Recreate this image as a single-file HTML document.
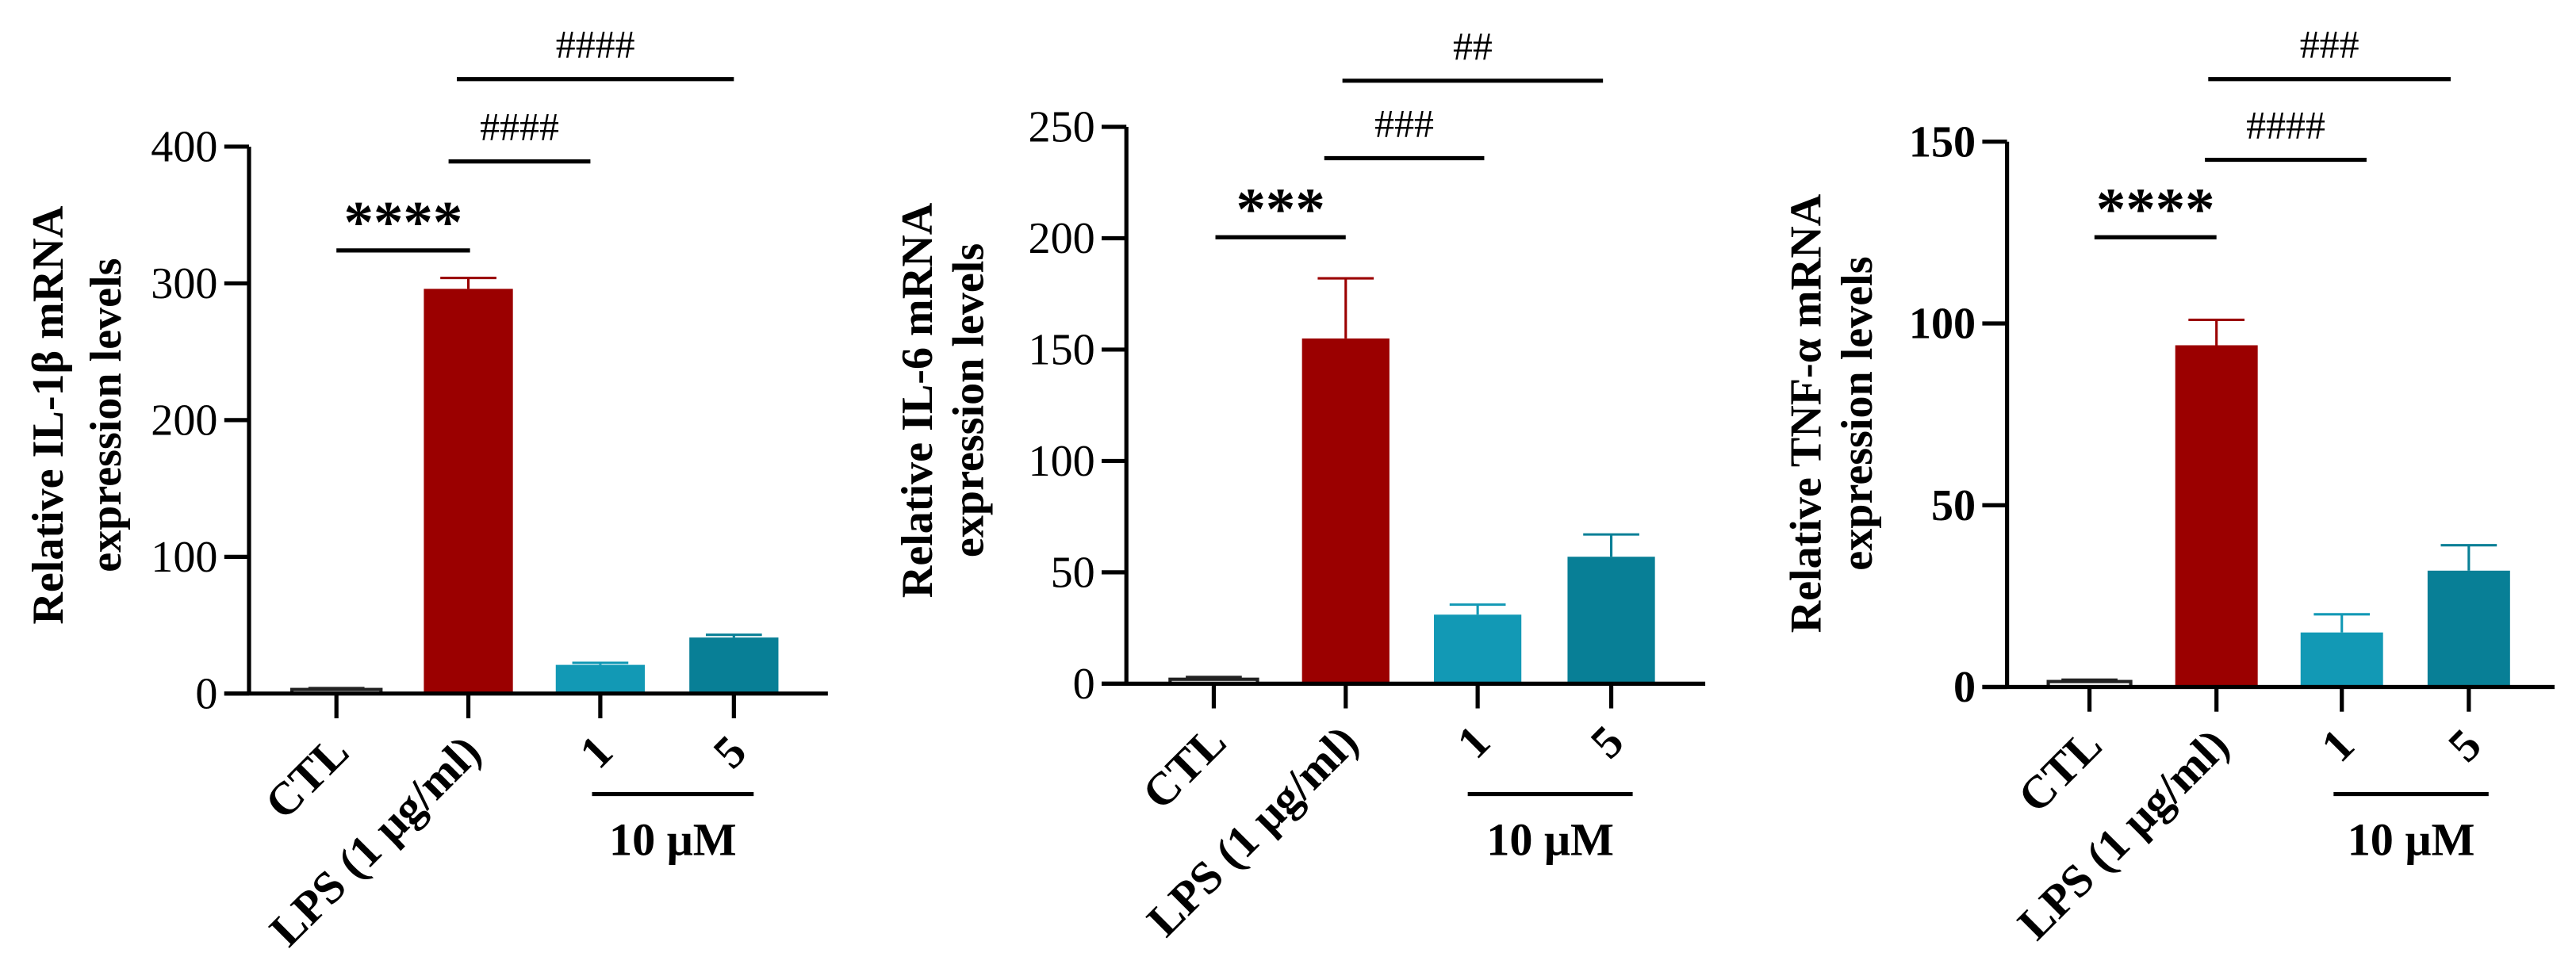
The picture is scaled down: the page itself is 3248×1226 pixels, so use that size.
<!DOCTYPE html>
<html><head><meta charset="utf-8"><style>
html,body{margin:0;padding:0;background:#fff;}
svg{display:block;}
text{font-family:"Liberation Serif",serif;}
</style></head><body>
<svg id="fig" xmlns="http://www.w3.org/2000/svg" width="3248" height="1226" viewBox="0 0 1562 590" preserveAspectRatio="none"></svg>
<script>
const categories = ["CTL","LPS (1 μg/ml)","1","5"];
const il1bValues = [3,296,21,41];
const il1bErrors = [1,8,1.5,2];
const il6Values = [2,155,31,57];
const il6Errors = [1,27,4.5,10];
const tnfValues = [1.5,94,15,32];
const tnfErrors = [0.5,7,5,7];
const il1bTicks = [0,100,200,300,400];
const il6Ticks = [0,50,100,150,200,250];
const tnfTicks = [0,50,100,150];
const il1bSig = ["****","####","####"];
const il6Sig = ["***","###","##"];
const tnfSig = ["****","####","###"];
const barColors = ["#222","#9b0000","#1299b5","#087f96"];

const NS="http://www.w3.org/2000/svg";
const svg=document.getElementById('fig');
function mk(tag,attrs,parent){const e=document.createElementNS(NS,tag);for(const k in attrs)e.setAttribute(k,attrs[k]);(parent||svg).appendChild(e);return e;}

const panels=[
 {name:"il1b",vals:il1bValues,errs:il1bErrors,ticks:il1bTicks,sig:il1bSig,ax:151,y0:421,yTop:89,xEnd:502,cx:[204,284,364,445],bw:54,
  title:["Relative IL-1β mRNA","expression levels"],tx:29,ty:252,gap:35,boldTicks:false,
  br:[[204,285,152],[272,358,98],[277,445,48]],grp:[359,457]},
 {name:"il6",vals:il6Values,errs:il6Errors,ticks:il6Ticks,sig:il6Sig,ax:683,y0:415,yTop:77,xEnd:1034,cx:[736,816,896,977],bw:53,
  title:["Relative IL-6 mRNA","expression levels"],tx:556,ty:243,gap:31,boldTicks:false,
  br:[[737,816,144],[803,900,96],[814,972,49]],grp:[890,990]},
 {name:"tnf",vals:tnfValues,errs:tnfErrors,ticks:tnfTicks,sig:tnfSig,ax:1217,y0:417,yTop:86,xEnd:1549,cx:[1267,1344,1420,1497],bw:50,
  title:["Relative TNF-α mRNA","expression levels"],tx:1095,ty:251,gap:31,boldTicks:true,
  br:[[1270,1344,144],[1337,1435,97],[1339,1486,48]],grp:[1415,1509]}
];

panels.forEach(p=>{
 const g=mk('g',{});
 
 
 const maxT=p.ticks[p.ticks.length-1];
 const y=v=>p.y0-(v/maxT)*(p.y0-p.yTop);
 p.vals.forEach((v,i)=>{
  const c=barColors[i], w=p.bw, x=p.cx[i]-w/2, top=y(v);
  const eb=y(v+p.errs[i]);
  const ln=mk('line',{x1:p.cx[i],x2:p.cx[i],y1:top,y2:eb,stroke:c,'stroke-width':1.5},g);
  
  
  const cap=mk('line',{x1:p.cx[i]-17,x2:p.cx[i]+17,y1:eb,y2:eb,stroke:c,'stroke-width':1.5},g);
  
  
  const r=mk('rect',{x:x,y:top,width:w,height:p.y0-top,fill:i===0?'#fff':c,stroke:i===0?'#222':'none','stroke-width':2},g);
  
  
 });
 const ya=mk('line',{x1:p.ax,x2:p.ax,y1:p.yTop,y2:p.y0+1,stroke:'#000','stroke-width':2.5},g);
 
 
 const xa=mk('line',{x1:p.ax-15,x2:p.xEnd,y1:p.y0,y2:p.y0,stroke:'#000','stroke-width':2.5},g);
 
 
 p.ticks.forEach(t=>{
  const ty=y(t);
  mk('line',{x1:p.ax-15,x2:p.ax,y1:ty,y2:ty,stroke:'#000','stroke-width':2.5},g);
  const lb=mk('text',{x:p.ax-19,y:ty+9,'text-anchor':'end','font-size':27,'font-weight':p.boldTicks?'bold':'normal'},g);
  lb.textContent=t;
  
  
 });
 categories.forEach((c,i)=>{
  mk('line',{x1:p.cx[i],x2:p.cx[i],y1:p.y0,y2:p.y0+15,stroke:'#000','stroke-width':2.5},g);
  const tx=p.cx[i]+9, ty=p.y0+37;
  const lb=mk('text',{x:tx,y:ty,'text-anchor':'end','font-size':28,'font-weight':'bold',transform:`rotate(-45 ${tx} ${ty})`},g);
  lb.textContent=c;
  
  
 });
 const gl=mk('line',{x1:p.grp[0],x2:p.grp[1],y1:482,y2:482,stroke:'#000','stroke-width':2.5},g);
 
 
 const gt=mk('text',{x:(p.grp[0]+p.grp[1])/2,y:519,'text-anchor':'middle','font-size':28,'font-weight':'bold'},g);
 gt.textContent='10 μM';
 
 
 p.br.forEach((b,k)=>{
  const l=mk('line',{x1:b[0],x2:b[1],y1:b[2],y2:b[2],stroke:'#000','stroke-width':2.5},g);
  
  
  const star=k===0;
  const t=mk('text',{x:(b[0]+b[1])/2,y:star?b[2]-5:b[2]-13,'text-anchor':'middle','font-size':star?36:24,'font-weight':star?'bold':'normal','font-family':star?'Liberation Sans, sans-serif':'Liberation Serif, serif'},g);
  t.textContent=p.sig[k];
  
  
 });
 const tt=mk('text',{'font-size':27,'font-weight':'bold','text-anchor':'middle',transform:`translate(${p.tx+9} ${p.ty}) rotate(-90)`},g);
 
 
 p.title.forEach((s,i)=>{const ts=mk('tspan',{x:0,y:i*p.gap},tt);ts.textContent=s;});
});
</script>
</body></html>
